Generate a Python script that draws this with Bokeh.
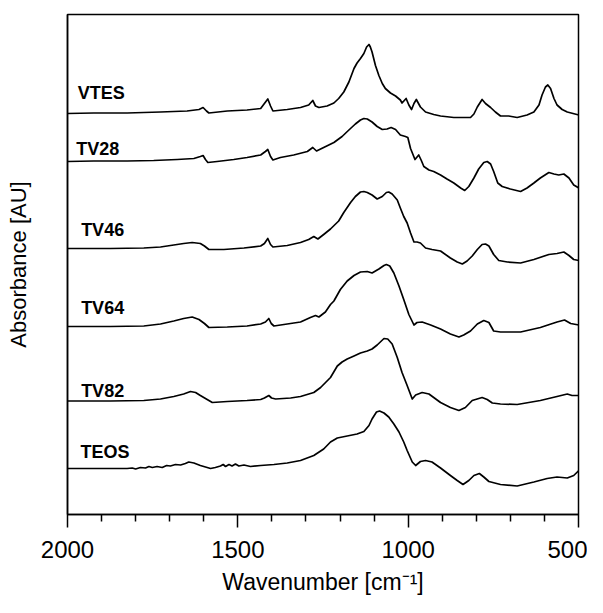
from bokeh.plotting import figure
from bokeh.models import FixedTicker, Range1d
from bokeh.embed import file_html
from bokeh.resources import INLINE
from bokeh.core.properties import value

# ---- data (wavenumber in cm-1, absorbance in arbitrary stacked units) ----
vtes_wn = [2000, 1923, 1825, 1727, 1649, 1614, 1602, 1592, 1585, 1531, 1473, 1433, 1422, 1412,
           1404, 1397, 1355, 1316, 1292, 1280, 1272, 1262, 1238, 1218, 1204, 1189, 1174, 1159,
           1150, 1140, 1130, 1122, 1115, 1111, 1106, 1096, 1086, 1076, 1067, 1052, 1037, 1023,
           1018, 1006, 998, 990, 983, 976, 964, 949, 925, 905, 866, 817, 807, 797, 783, 773, 758,
           744, 729, 705, 680, 651, 631, 616, 607, 597, 590, 582, 572, 563, 548, 533, 499]
vtes_abs = [80.2, 80.3, 80.3, 80.5, 80.7, 81.0, 81.4, 80.7, 80.3, 80.7, 80.9, 81.2, 82.2, 83.1,
            81.7, 80.7, 81.0, 81.4, 81.9, 82.8, 81.7, 81.4, 81.7, 82.3, 83.2, 84.5, 86.5, 89.2,
            90.3, 91.2, 92.2, 93.5, 94.0, 93.5, 92.5, 89.8, 87.8, 86.2, 85.2, 84.3, 83.7, 82.9,
            82.3, 83.2, 81.9, 81.0, 82.2, 83.0, 81.5, 80.5, 80.0, 79.7, 79.4, 79.4, 80.1, 81.5, 83.0, 82.2, 81.4,
            80.5, 79.7, 79.7, 79.4, 79.9, 80.5, 81.9, 83.9, 85.5, 85.9, 85.2, 83.2, 81.9, 81.0, 80.5, 79.9]

tv28_wn = [2000, 1923, 1825, 1747, 1678, 1629, 1610, 1602, 1595, 1588, 1561, 1512, 1473, 1433,
           1419, 1412, 1404, 1397, 1375, 1336, 1296, 1280, 1269, 1248, 1218, 1194, 1174, 1155,
           1140, 1130, 1120, 1106, 1091, 1076, 1062, 1050, 1037, 1023, 1008, 1001, 993, 980, 969,
           962, 954, 939, 925, 905, 886, 866, 846, 834, 822, 807, 793, 778, 768, 758, 749, 737,
           724, 700, 670, 651, 631, 612, 587, 572, 558, 543, 528, 514, 499]
tv28_abs = [70.6, 70.7, 70.7, 70.8, 71.0, 71.2, 71.6, 71.8, 71.0, 70.4, 70.6, 71.0, 71.4, 71.9,
            72.6, 73.0, 71.6, 70.9, 71.4, 71.9, 72.6, 73.4, 72.7, 73.4, 74.4, 75.6, 76.9, 78.1,
            78.9, 79.2, 79.1, 78.5, 77.6, 77.0, 77.1, 77.4, 77.0, 75.9, 75.6, 75.4, 73.2, 71.0, 71.9,
            70.9, 69.6, 68.9, 68.6, 67.9, 67.1, 66.3, 65.3, 64.8, 65.6, 67.3, 69.1, 70.4, 70.6, 70.1, 68.6, 66.3,
            65.6, 65.1, 64.6, 65.3, 66.3, 67.3, 68.4, 68.1, 67.9, 68.1, 67.3, 65.9, 65.3]

tv46_wn = [2000, 1874, 1776, 1727, 1688, 1659, 1634, 1610, 1598, 1585, 1541, 1482, 1433, 1422,
           1412, 1404, 1397, 1355, 1316, 1292, 1277, 1265, 1248, 1228, 1204, 1189, 1169, 1155,
           1140, 1130, 1120, 1106, 1091, 1076, 1064, 1057, 1047, 1032, 1023, 1013, 1003, 993, 983,
           974, 964, 949, 930, 905, 876, 856, 841, 827, 812, 797, 783, 773, 763, 749, 734, 709,
           670, 631, 587, 563, 543, 528, 514, 499]
tv46_abs = [53.2, 53.2, 53.3, 53.5, 53.9, 54.2, 54.4, 54.2, 53.7, 53.0, 53.0, 53.3, 53.7, 54.2,
            55.2, 54.0, 53.5, 53.8, 54.4, 55.0, 55.6, 55.1, 56.0, 57.1, 58.7, 60.4, 62.4, 63.6,
            64.5, 64.6, 64.4, 63.9, 63.1, 63.6, 64.4, 64.5, 64.1, 62.9, 61.3, 59.6, 58.3, 56.3, 54.5,
            54.5, 54.3, 53.3, 53.0, 52.7, 51.3, 50.5, 50.1, 50.7, 51.7, 53.0, 54.0, 54.1, 53.7, 52.0, 50.8, 50.5,
            50.3, 51.0, 52.0, 52.2, 52.5, 51.8, 51.0, 50.8]

tv64_wn = [2000, 1874, 1776, 1727, 1688, 1659, 1634, 1614, 1598, 1585, 1531, 1473, 1433, 1419,
           1409, 1402, 1394, 1355, 1316, 1287, 1272, 1262, 1243, 1228, 1218, 1199, 1179, 1159,
           1140, 1120, 1106, 1086, 1071, 1064, 1054, 1042, 1027, 1013, 998, 983, 974, 959, 934,
           905, 876, 851, 837, 817, 797, 778, 763, 749, 729, 670, 612, 563, 541, 523, 499]
tv64_abs = [37.6, 37.6, 37.7, 38.1, 38.7, 39.2, 39.5, 39.0, 38.2, 37.4, 37.5, 37.7, 38.1, 38.5,
            39.2, 38.2, 37.7, 38.1, 38.5, 39.4, 39.8, 39.5, 40.5, 42.0, 42.7, 45.0, 46.7, 47.8,
            48.5, 48.6, 48.3, 49.1, 49.8, 50.0, 49.7, 48.3, 45.7, 43.0, 40.0, 37.9, 38.4, 38.5, 37.9,
            37.1, 36.1, 35.5, 35.9, 36.7, 38.1, 38.8, 38.4, 36.7, 36.5, 36.5, 37.4, 38.5, 38.9, 38.2, 37.9]

tv82_wn = [2000, 1874, 1776, 1727, 1688, 1659, 1639, 1624, 1610, 1590, 1575, 1531, 1473, 1433,
           1422, 1409, 1401, 1389, 1345, 1316, 1277, 1257, 1228, 1208, 1194, 1179, 1159, 1140,
           1120, 1106, 1091, 1071, 1060, 1047, 1032, 1018, 1003, 988, 978, 959, 939, 905, 876,
           851, 832, 812, 783, 768, 753, 729, 680, 612, 563, 533, 519, 499]
tv82_abs = [22.7, 22.7, 22.8, 23.1, 23.6, 24.1, 24.6, 24.4, 23.8, 23.0, 22.4, 22.6, 22.8, 23.0,
            23.3, 23.8, 23.3, 23.1, 23.3, 23.6, 24.4, 25.4, 27.4, 29.7, 30.5, 31.1, 31.7, 32.3,
            32.7, 33.1, 33.9, 35.2, 35.1, 34.1, 31.4, 28.4, 25.8, 23.1, 23.9, 24.4, 24.1, 22.4, 21.4,
            20.8, 21.4, 22.8, 23.4, 23.0, 22.3, 22.1, 22.0, 22.8, 23.6, 24.1, 23.8, 23.8]

teos_wn = [2000, 1874, 1825, 1810, 1800, 1786, 1771, 1761, 1751, 1737, 1722, 1709, 1698, 1683,
           1668, 1654, 1644, 1629, 1610, 1595, 1580, 1566, 1551, 1543, 1536, 1526, 1517, 1507,
           1497, 1482, 1463, 1433, 1394, 1355, 1316, 1277, 1248, 1228, 1208, 1179, 1150, 1130,
           1115, 1106, 1093, 1084, 1071, 1057, 1042, 1027, 1013, 1003, 988, 978, 964, 949, 930,
           905, 876, 856, 839, 822, 807, 791, 778, 763, 729, 680, 631, 592, 563, 533, 514, 499]
teos_abs = [9.2, 9.2, 9.2, 9.3, 9.1, 9.4, 9.3, 9.6, 9.4, 9.6, 9.4, 9.8, 9.7, 10.0,
            9.9, 10.2, 10.5, 10.3, 9.8, 9.5, 9.2, 9.4, 9.7, 10.0, 9.6, 10.0, 9.7, 10.1,
            9.7, 9.9, 9.6, 9.8, 10.0, 10.3, 10.8, 11.8, 13.1, 14.5, 15.3, 15.7, 16.1, 16.6,
            17.8, 19.1, 20.5, 20.7, 20.3, 19.5, 18.1, 16.5, 14.5, 12.8, 10.5, 9.8, 10.6, 10.8, 10.5,
            9.3, 7.8, 6.8, 6.0, 6.8, 7.8, 8.2, 7.5, 6.6, 6.0, 5.7, 6.5, 7.2, 7.5, 7.3, 7.8, 8.8]

labels = ["VTES", "TV28", "TV46", "TV64", "TV82", "TEOS"]
label_wn = [1970, 1974, 1960, 1960, 1960, 1962]
label_abs = [84.3, 73.2, 57.0, 41.3, 24.7, 12.6]

x_major = [2000, 1500, 1000, 500]
x_minor = [1900, 1800, 1700, 1600, 1400, 1300, 1200, 1100, 900, 800, 700, 600]

FONT = "Liberation Sans"

p = figure(width=587, height=597, x_range=Range1d(2000, 500), y_range=Range1d(0, 100),
           output_backend="svg", toolbar_location=None,
           min_border_left=67, min_border_right=9, min_border_top=14, min_border_bottom=81)

series = [(vtes_wn, vtes_abs), (tv28_wn, tv28_abs), (tv46_wn, tv46_abs),
          (tv64_wn, tv64_abs), (tv82_wn, tv82_abs), (teos_wn, teos_abs)]
for wn, ab in series:
    p.line(wn, ab, line_color="black", line_width=1.7, line_join="round")

p.text(x=label_wn, y=label_abs, text=labels, text_font=value(FONT), text_font_size="18px",
       text_font_style="bold", text_baseline="middle", text_align="left", text_color="black")

p.grid.visible = False
p.outline_line_color = "black"
p.outline_line_width = 1.5
p.background_fill_color = "white"
p.border_fill_color = "white"

xa = p.xaxis[0]
xa.ticker = FixedTicker(ticks=x_major, minor_ticks=x_minor)
xa.axis_label = "Wavenumber [cm⁻¹]"
xa.axis_label_text_font = FONT
xa.axis_label_text_font_size = "23px"
xa.axis_label_text_font_style = "normal"
xa.axis_label_text_color = "black"
xa.axis_label_standoff = 8
xa.major_label_text_font = FONT
xa.major_label_text_font_size = "24px"
xa.major_label_text_color = "black"
xa.major_label_standoff = 13
xa.major_tick_in = 0
xa.major_tick_out = 13
xa.minor_tick_in = 0
xa.minor_tick_out = 7
xa.axis_line_width = 1.5
xa.major_tick_line_width = 1.5
xa.minor_tick_line_width = 1.5
xa.axis_line_color = "black"

ya = p.yaxis[0]
ya.ticker = FixedTicker(ticks=[])
ya.axis_label = "Absorbance [AU]"
ya.axis_label_text_font = FONT
ya.axis_label_text_font_size = "22px"
ya.axis_label_text_font_style = "normal"
ya.axis_label_text_color = "black"
ya.axis_label_standoff = 37
ya.major_tick_line_color = None
ya.minor_tick_line_color = None
ya.major_label_text_font_size = "0px"
ya.axis_line_width = 1.5
ya.axis_line_color = "black"

open("out.html", "w").write(file_html(p, INLINE))
